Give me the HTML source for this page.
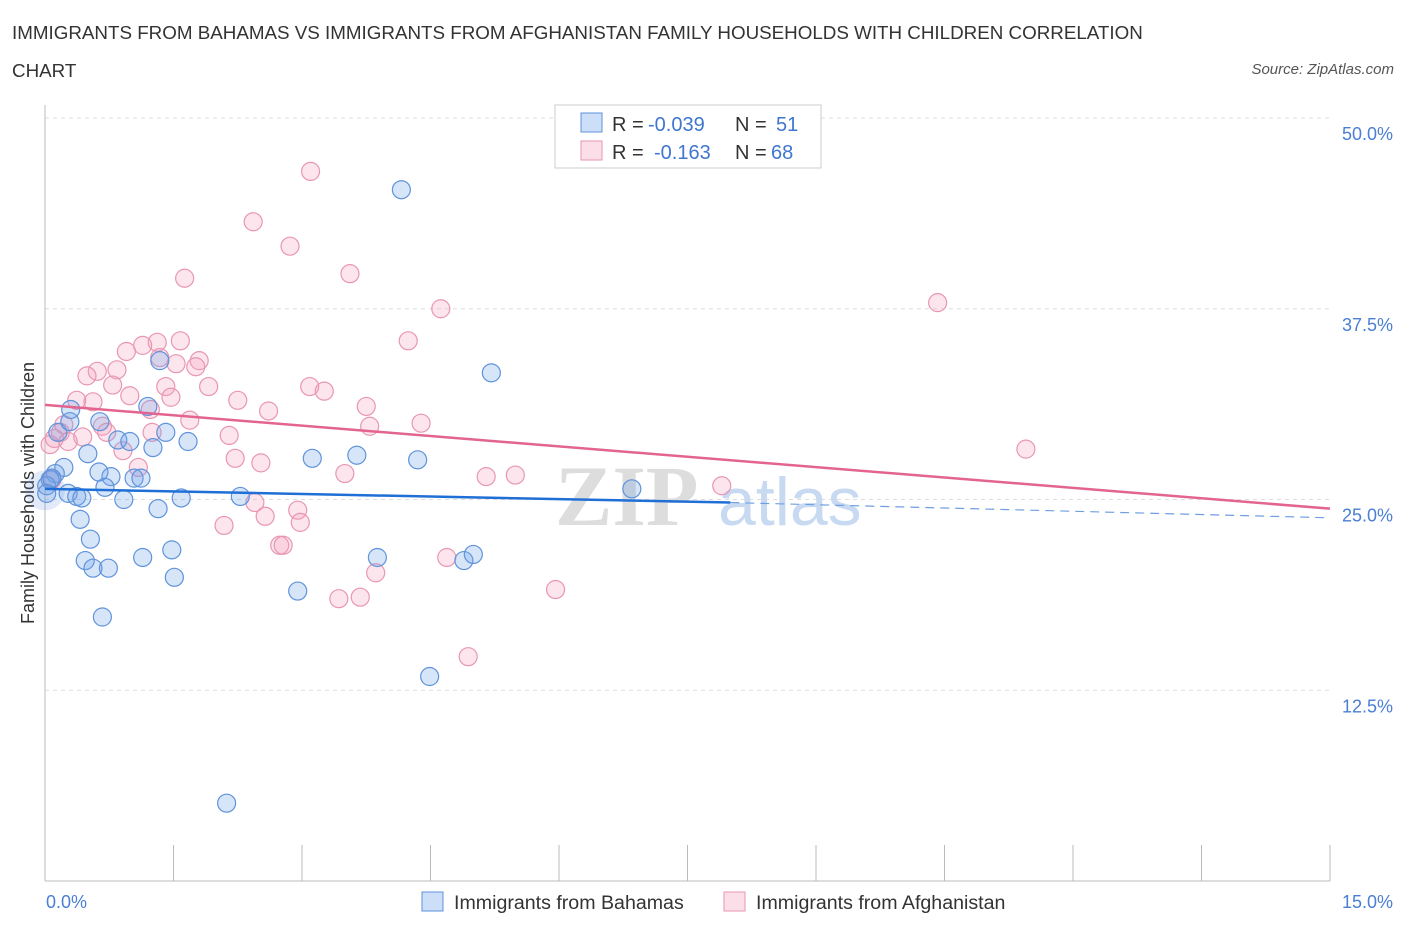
<!DOCTYPE html>
<html><head><meta charset="utf-8"><style>
body{margin:0;background:#fff;font-family:"Liberation Sans",sans-serif;}
#wrap{position:relative;width:1406px;height:930px;overflow:hidden}
.t{position:absolute;white-space:nowrap}
</style></head><body><div id="wrap">
<div class="t" style="left:12px;top:14px;font-size:18.8px;color:#333;line-height:38px">IMMIGRANTS FROM BAHAMAS VS IMMIGRANTS FROM AFGHANISTAN FAMILY HOUSEHOLDS WITH CHILDREN CORRELATION<br>CHART</div>
<div class="t" style="right:12px;top:61px;font-size:15px;color:#555;font-style:italic">Source: ZipAtlas.com</div>
<svg id="svg" width="1406" height="930" style="position:absolute;left:0;top:0"></svg>
</div>
<script>
const blueX=[4.16,5.21,1.34,1.20,0.30,0.15,0.29,0.64,0.50,0.85,0.99,1.41,1.26,1.67,0.22,0.12,0.06,0.02,0.63,0.77,1.04,1.12,0.70,0.92,0.27,0.37,0.43,1.59,1.32,2.28,3.12,3.64,4.35,6.85,0.41,0.53,0.47,0.56,0.74,1.14,1.48,1.51,0.67,2.95,3.88,4.89,5.00,4.49,2.12,0.02,0.08];
const blueY=[45.3,33.3,34.1,31.1,30.9,29.4,30.1,30.1,28.0,28.9,28.8,29.4,28.4,28.8,27.1,26.7,26.3,25.9,26.8,26.5,26.4,26.4,25.8,25.0,25.4,25.2,25.1,25.1,24.4,25.2,27.7,27.9,27.6,25.7,23.7,22.4,21.0,20.5,20.5,21.2,21.7,19.9,17.3,19.0,21.2,21.0,21.4,13.4,5.1,25.4,26.4];
const pinkX=[3.10,2.43,2.86,3.56,1.63,10.42,4.62,4.24,1.58,1.31,0.95,1.14,1.34,1.53,1.80,1.76,0.84,0.61,0.49,1.41,3.09,3.26,0.79,1.91,0.99,1.47,0.56,2.25,2.61,3.75,0.37,1.23,1.69,4.39,3.79,0.67,0.22,0.18,0.72,2.15,1.25,0.44,0.11,0.27,0.91,11.45,2.22,2.52,1.09,3.50,5.15,5.49,7.90,2.45,2.57,2.95,2.98,2.09,2.74,2.78,4.69,3.86,5.96,3.43,3.68,4.94,0.06,0.08];
const pinkY=[46.5,43.2,41.6,39.8,39.5,37.9,37.5,35.4,35.4,35.3,34.7,35.1,34.3,33.9,34.1,33.7,33.5,33.4,33.1,32.4,32.4,32.1,32.5,32.4,31.8,31.7,31.4,31.5,30.8,31.1,31.5,30.9,30.2,30.0,29.8,29.8,29.9,29.4,29.4,29.2,29.4,29.1,29.0,28.8,28.2,28.3,27.7,27.4,27.1,26.7,26.5,26.6,25.9,24.8,23.9,24.3,23.5,23.3,22.0,22.0,21.2,20.2,19.1,18.5,18.6,14.7,28.6,26.3];
const blueLine=[25.7,24.8,23.8]; // at x=0, 8.0 (solid end), 15
const pinkLine=[31.2,24.4];
const yTicks=[12.5,25.0,37.5,50.0];
const xTickLabels=["0.0%","15.0%"];
const X=v=>45+v/15*1285, Y=v=>881-v/50*763;
const svg=document.getElementById('svg'),NS='http://www.w3.org/2000/svg';
function mk(t,a,p){const e=document.createElementNS(NS,t);for(const k in a)e.setAttribute(k,a[k]);(p||svg).appendChild(e);return e;}
yTicks.forEach(v=>{const l=mk('line',{x1:45,x2:1330,y1:Y(v),y2:Y(v),stroke:'#ddd','stroke-dasharray':'4,4'});


const t=mk('text',{x:1393,y:Y(v)+22,'text-anchor':'end','font-size':18,fill:'#4a7fd4','font-family':'Liberation Sans'});t.textContent=v.toFixed(1)+'%';

});
mk('line',{x1:45,x2:45,y1:105,y2:881,stroke:'#bbb'});
mk('line',{x1:45,x2:1330,y1:881,y2:881,stroke:'#bbb'});
for(let i=0;i<=10;i++){const tk=mk('line',{x1:X(i*1.5),x2:X(i*1.5),y1:845,y2:881,stroke:'#bbb'});

}
[[46,'start',0],[1393,'end',1]].forEach(([x,a,i])=>{const t=mk('text',{x:x,y:908,'text-anchor':a,'font-size':18,fill:'#4a7fd4','font-family':'Liberation Sans'});t.textContent=xTickLabels[i];

});
const yt=mk('text',{x:34,y:493,transform:'rotate(-90 34 493)','text-anchor':'middle','font-size':18,fill:'#333','font-family':'Liberation Sans'});yt.textContent='Family Households with Children';


const w=mk('text',{x:555,y:525,'font-size':86,fill:'#ddd','font-family':'Liberation Serif','font-weight':'bold'});w.textContent='ZIP';


const w2=mk('text',{x:718,y:525,'font-size':68,fill:'#c8daf2','font-family':'Liberation Sans'});w2.textContent='atlas';


mk('circle',{cx:X(0),cy:Y(25.6),r:20,fill:'rgba(110,150,225,0.2)'});
function pts(xs,ys,fill,stroke,name){xs.forEach((x,i)=>{const c=mk('circle',{cx:X(x),cy:Y(ys[i]),r:9,fill:fill,stroke:stroke,'stroke-width':1.2});

});}
pts(pinkX,pinkY,'rgba(245,160,190,0.28)','#e996b2','point-afghanistan');
pts(blueX,blueY,'rgba(110,160,235,0.28)','#5f93db','point-bahamas');
const bl=mk('line',{x1:X(0),y1:Y(blueLine[0]),x2:X(8),y2:Y(blueLine[1]),stroke:'#1f6fd6','stroke-width':2.5});


const bd=mk('line',{x1:X(8),y1:Y(blueLine[1]),x2:X(15),y2:Y(blueLine[2]),stroke:'#6f9fe0','stroke-width':1.2,'stroke-dasharray':'9,6'});


const pl=mk('line',{x1:X(0),y1:Y(pinkLine[0]),x2:X(15),y2:Y(pinkLine[1]),stroke:'#e3648f','stroke-width':2.5});


const g=mk('g',{});
mk('rect',{x:555,y:105,width:266,height:63,fill:'#fff',stroke:'#ccc'},g);
mk('rect',{x:581,y:113,width:21,height:19,fill:'rgba(110,160,235,0.35)',stroke:'#5f93db'},g);
mk('rect',{x:581,y:141,width:21,height:19,fill:'rgba(245,160,190,0.35)',stroke:'#e996b2'},g);
[[131,648,'-0.039',776,'51'],[159,654,'-0.163',771,'68']].forEach(([y,rx,r,nx,n])=>{
const a=mk('text',{x:612,y:y,'font-size':20,fill:'#333','font-family':'Liberation Sans'},g);a.textContent='R = ';
const a2=mk('text',{x:rx,y:y,'font-size':20,fill:'#3f76d0','font-family':'Liberation Sans'},g);a2.textContent=r;
const b=mk('text',{x:735,y:y,'font-size':20,fill:'#333','font-family':'Liberation Sans'},g);b.textContent='N = ';
const b2=mk('text',{x:nx,y:y,'font-size':20,fill:'#3f76d0','font-family':'Liberation Sans'},g);b2.textContent=n;});
[[422,'Immigrants from Bahamas','rgba(110,160,235,0.35)','#5f93db'],[724,'Immigrants from Afghanistan','rgba(245,160,190,0.35)','#e996b2']].forEach(([x,t,f,s])=>{
const gg=mk('g',{});
mk('rect',{x:x,y:892,width:21,height:19,fill:f,stroke:s},gg);
const tt=mk('text',{x:x+32,y:909,'font-size':19.6,fill:'#333','font-family':'Liberation Sans'},gg);tt.textContent=t;});
</script></body></html>
